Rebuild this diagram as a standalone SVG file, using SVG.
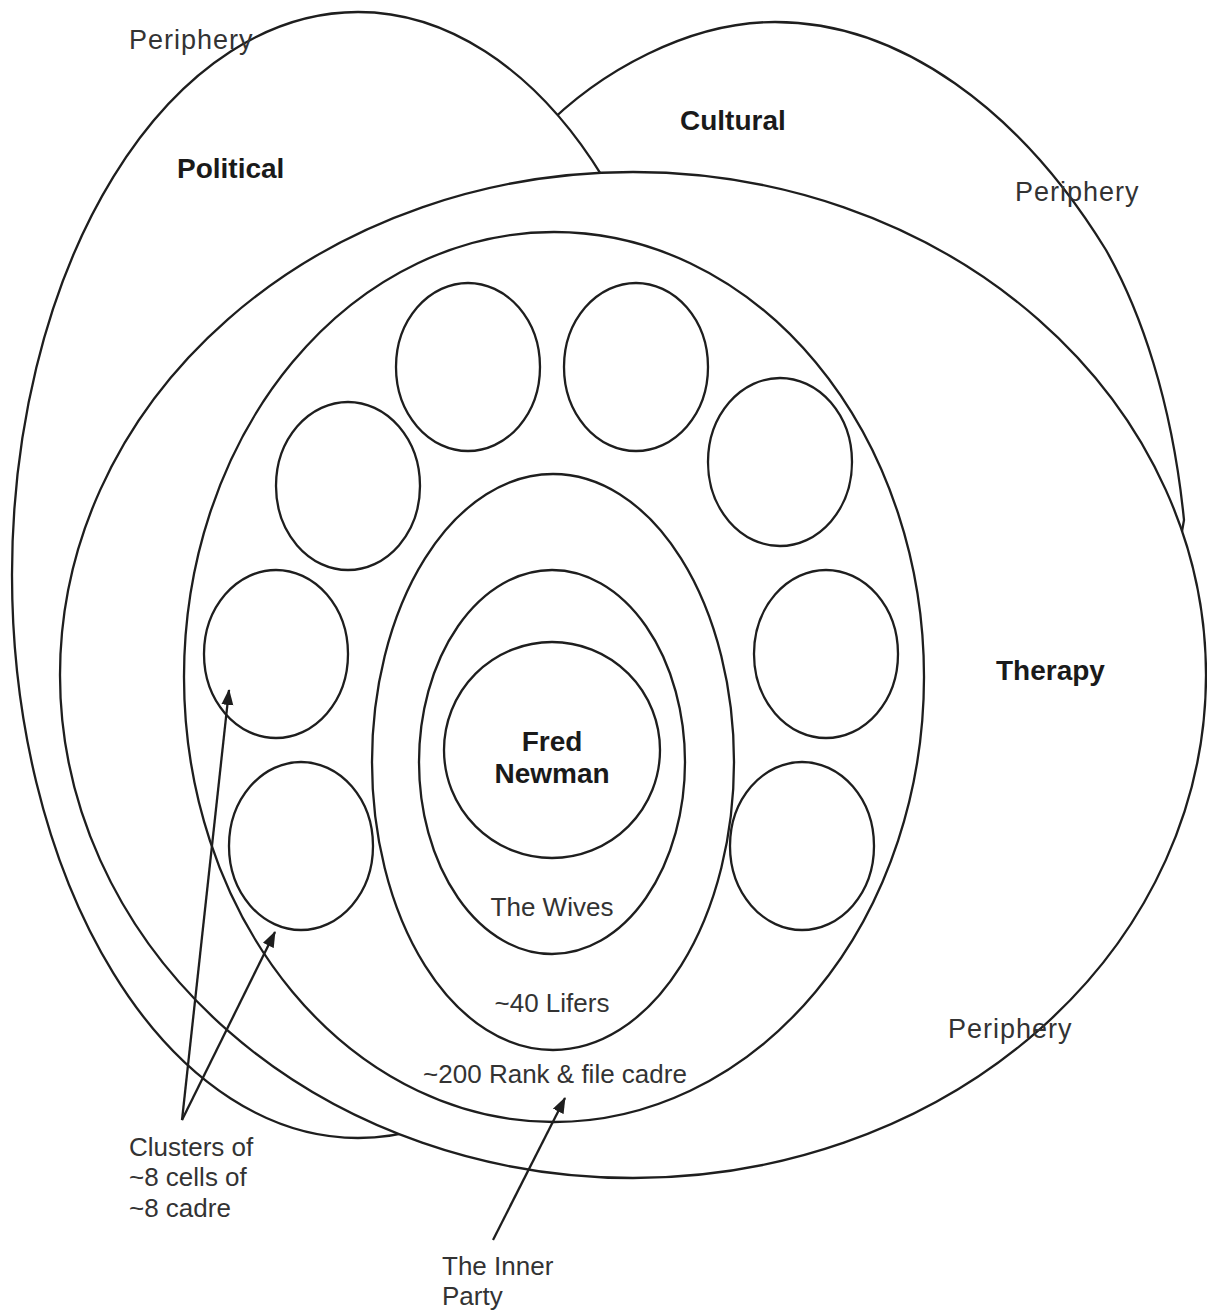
<svg xmlns="http://www.w3.org/2000/svg" width="1207" height="1312" viewBox="0 0 1207 1312">
  <defs>
    <style>
      .ln { fill: none; stroke: #1e1e1e; stroke-width: 2.3; }
      .wf { fill: #ffffff; stroke: #1e1e1e; stroke-width: 2.3; }
      .t { font-family: "Liberation Sans", Arial, sans-serif; font-size: 26px; fill: #333333; }
      .p { font-size: 27px; letter-spacing: 1px; }
      .b { font-family: "Liberation Sans", Arial, sans-serif; font-size: 28px; font-weight: bold; fill: #1a1a1a; }
      .mid { text-anchor: middle; }
    </style>
    <marker id="arr" markerUnits="userSpaceOnUse" markerWidth="16" markerHeight="14" viewBox="0 0 16 14" refX="15" refY="7" orient="auto">
      <path d="M0,1 L16,7 L0,13 Z" fill="#1e1e1e"/>
    </marker>
  </defs>
  <rect width="1207" height="1312" fill="#ffffff"/>

  <g id="cultural">
    <path class="ln" d="M540,132 C600,70 690,22 775,22 C900,22 1020,110 1106,250 C1140,310 1172,400 1184,520 L1170,600"/>
  </g>
  <g id="political">
    <ellipse class="wf" cx="358" cy="575" rx="346" ry="563"/>
  </g>
  <g id="therapy">
    <ellipse class="wf" cx="633" cy="675" rx="573" ry="503"/>
  </g>
  <g id="rank-and-file">
    <ellipse class="ln" cx="554" cy="677" rx="370" ry="445"/>
  </g>
  <g id="lifers">
    <ellipse class="ln" cx="553" cy="762" rx="181" ry="288"/>
  </g>
  <g id="wives">
    <ellipse class="ln" cx="552" cy="762" rx="133" ry="192"/>
  </g>
  <g id="fred-newman">
    <ellipse class="ln" cx="552" cy="750" rx="108" ry="108"/>
    <text class="b mid" x="552" y="751">Fred</text>
    <text class="b mid" x="552" y="783">Newman</text>
  </g>
  <g id="cell-1"><ellipse class="ln" cx="468" cy="367" rx="72" ry="84"/></g>
  <g id="cell-2"><ellipse class="ln" cx="636" cy="367" rx="72" ry="84"/></g>
  <g id="cell-3"><ellipse class="ln" cx="780" cy="462" rx="72" ry="84"/></g>
  <g id="cell-4"><ellipse class="ln" cx="348" cy="486" rx="72" ry="84"/></g>
  <g id="cell-5"><ellipse class="ln" cx="276" cy="654" rx="72" ry="84"/></g>
  <g id="cell-6"><ellipse class="ln" cx="826" cy="654" rx="72" ry="84"/></g>
  <g id="cell-7"><ellipse class="ln" cx="301" cy="846" rx="72" ry="84"/></g>
  <g id="cell-8"><ellipse class="ln" cx="802" cy="846" rx="72" ry="84"/></g>

  <g id="labels">
    <text class="t p" x="129" y="49">Periphery</text>
    <text class="b" x="177" y="178">Political</text>
    <text class="b" x="680" y="130">Cultural</text>
    <text class="t p" x="1015" y="201">Periphery</text>
    <text class="b" x="996" y="680">Therapy</text>
    <text class="t mid" x="552" y="916">The Wives</text>
    <text class="t mid" x="552" y="1012">~40 Lifers</text>
    <text class="t mid" x="555" y="1083">~200 Rank &amp; file cadre</text>
    <text class="t p" x="948" y="1038">Periphery</text>
  </g>

  <g id="note-clusters">
    <text class="t" x="129" y="1156">Clusters of</text>
    <text class="t" x="129" y="1186">~8 cells of</text>
    <text class="t" x="129" y="1217">~8 cadre</text>
  </g>
  <g id="note-inner-party">
    <text class="t" x="442" y="1275">The Inner</text>
    <text class="t" x="442" y="1305">Party</text>
  </g>

  <g id="connectors">
    <line class="ln" x1="182" y1="1120" x2="229" y2="690" marker-end="url(#arr)"/>
    <line class="ln" x1="182" y1="1120" x2="275" y2="932" marker-end="url(#arr)"/>
    <line class="ln" x1="493" y1="1240" x2="565" y2="1098" marker-end="url(#arr)"/>
  </g>
</svg>
